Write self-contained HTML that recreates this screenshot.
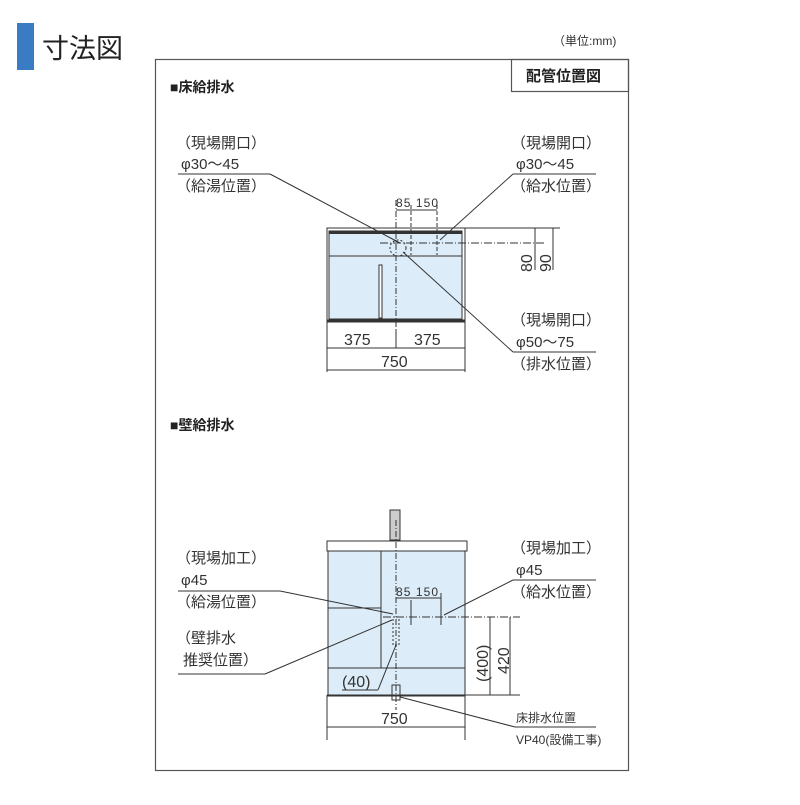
<!DOCTYPE html>
<html><head><meta charset="utf-8"><style>
body{margin:0;background:#fff;}
svg text{font-family:"Liberation Sans","Noto Sans CJK JP",sans-serif;fill:#333;}
</style></head><body>
<svg width="800" height="800" viewBox="0 0 800 800" xmlns="http://www.w3.org/2000/svg">
<rect width="800" height="800" fill="#fff"/>
<rect x="17" y="23" width="17" height="47" fill="#3a7cc4"/>
<text x="42" y="58" font-size="27" style="fill:#222">寸法図</text>
<text x="553" y="45" font-size="12">（単位:mm)</text>
<rect x="155.5" y="59.5" width="473" height="711" fill="none" stroke="#555" stroke-width="1.2"/>
<rect x="511.5" y="59.5" width="117" height="32" fill="none" stroke="#555" stroke-width="1.2"/>
<text x="526" y="81" font-size="15" style="fill:#222" font-weight="bold">配管位置図</text>
<text x="170" y="92" font-size="14" style="fill:#222" font-weight="bold">■床給排水</text>
<text x="170" y="430" font-size="14" style="fill:#222" font-weight="bold">■壁給排水</text>

<g font-size="15">
<text x="176" y="148">（現場開口）</text><text x="181" y="169">φ30～45</text><text x="176" y="191">（給湯位置）</text>
<text x="511" y="148">（現場開口）</text><text x="516" y="169">φ30～45</text><text x="511" y="191">（給水位置）</text>
<text x="511" y="325">（現場開口）</text><text x="516" y="347">φ50～75</text><text x="511" y="369">（排水位置）</text>
<text x="176" y="563">（現場加工）</text><text x="181" y="585">φ45</text><text x="176" y="607">（給湯位置）</text>
<text x="176" y="643">（壁排水</text><text x="183" y="665">推奨位置）</text>
<text x="511" y="553">（現場加工）</text><text x="516" y="575">φ45</text><text x="511" y="597">（給水位置）</text>
<text x="516" y="722" font-size="12">床排水位置</text><text x="516" y="744" font-size="12">VP40(設備工事)</text>
</g>

<g stroke="#333" fill="none" stroke-width="1">
<rect x="327" y="228" width="138" height="94" fill="#fff"/>
<rect x="329" y="231" width="133" height="88" fill="#dcecf8"/>
<line x1="329" y1="232.5" x2="462" y2="232.5" stroke-width="3"/>
<line x1="329" y1="256" x2="462" y2="256"/>
<rect x="379" y="265" width="3" height="53" fill="#fff"/>
<line x1="327" y1="320.5" x2="465" y2="320.5" stroke-width="2"/>
<line x1="396" y1="200" x2="396" y2="330" stroke-dasharray="6,2,1,2"/>
<line x1="411" y1="205" x2="411" y2="255" stroke-dasharray="4,2"/>
<line x1="437" y1="205" x2="437" y2="255" stroke-dasharray="4,2"/>
<line x1="396" y1="210" x2="437" y2="210"/>
<circle cx="398" cy="248" r="8" stroke-dasharray="2,2"/>
<line x1="380" y1="243" x2="545" y2="243" stroke-dasharray="8,2,1,2"/>
<line x1="465" y1="228" x2="560" y2="228"/>
<line x1="535" y1="228" x2="535" y2="270"/><line x1="553" y1="228" x2="553" y2="270"/>
<line x1="327" y1="322" x2="327" y2="372"/><line x1="465" y1="322" x2="465" y2="372"/>
<line x1="327" y1="348" x2="465" y2="348"/><line x1="327" y1="370" x2="465" y2="370"/>
<line x1="396" y1="330" x2="396" y2="348"/>
<line x1="178" y1="174" x2="270" y2="174"/><line x1="270" y1="174" x2="400" y2="243"/>
<line x1="513" y1="174" x2="596" y2="174"/><line x1="513" y1="174" x2="440" y2="240"/>
<line x1="513" y1="352" x2="596" y2="352"/><line x1="513" y1="352" x2="403" y2="252"/>
</g>
<g font-size="16">
<text x="396" y="207" font-size="12" textLength="42">85 150</text>
<text x="344" y="345">375</text><text x="414" y="345">375</text><text x="381" y="367">750</text>
<text transform="translate(532,272) rotate(-90)">80</text>
<text transform="translate(551,272) rotate(-90)">90</text>
</g>

<g stroke="#333" fill="none" stroke-width="1">
<rect x="390" y="510" width="10" height="30" fill="#ccc"/>
<rect x="327" y="541" width="140" height="10" fill="#fff"/>
<rect x="328" y="551" width="137" height="144" fill="#dcecf8"/>
<line x1="381" y1="551" x2="381" y2="668"/>
<line x1="328" y1="608" x2="381" y2="608"/>
<line x1="328" y1="668" x2="465" y2="668"/>
<line x1="327" y1="695.5" x2="465" y2="695.5" stroke-width="2"/>
<line x1="396" y1="520" x2="396" y2="710" stroke-dasharray="6,2,1,2"/>
<line x1="396" y1="598" x2="441" y2="598"/>
<line x1="411" y1="600" x2="411" y2="625"/><line x1="441" y1="593" x2="441" y2="625"/>
<line x1="383" y1="617" x2="520" y2="617" stroke-dasharray="8,2,1,2"/>
<rect x="393" y="617" width="6" height="28" stroke-dasharray="2,2"/>
<rect x="392" y="685" width="8" height="15"/>
<line x1="465" y1="695" x2="520" y2="695"/>
<line x1="490" y1="617" x2="490" y2="695"/><line x1="510" y1="617" x2="510" y2="695"/>
<line x1="327" y1="695" x2="327" y2="740"/><line x1="465" y1="695" x2="465" y2="740"/>
<line x1="327" y1="727" x2="465" y2="727"/>
<line x1="178" y1="591" x2="280" y2="591"/><line x1="280" y1="591" x2="393" y2="614"/>
<line x1="178" y1="674" x2="265" y2="674"/><line x1="265" y1="674" x2="392" y2="620"/>
<line x1="513" y1="580" x2="596" y2="580"/><line x1="513" y1="580" x2="444" y2="615"/>
<line x1="342" y1="690" x2="378" y2="690"/><line x1="378" y1="690" x2="396" y2="645"/>
<line x1="515" y1="727" x2="596" y2="727"/><line x1="515" y1="727" x2="400" y2="697"/>
</g>
<g font-size="16">
<text x="396" y="596" font-size="12" textLength="42">85 150</text>
<text x="342" y="687">(40)</text><text x="381" y="724">750</text>
<text transform="translate(488,682) rotate(-90)">(400)</text>
<text transform="translate(509,674) rotate(-90)">420</text>
</g>
</svg>
</body></html>
